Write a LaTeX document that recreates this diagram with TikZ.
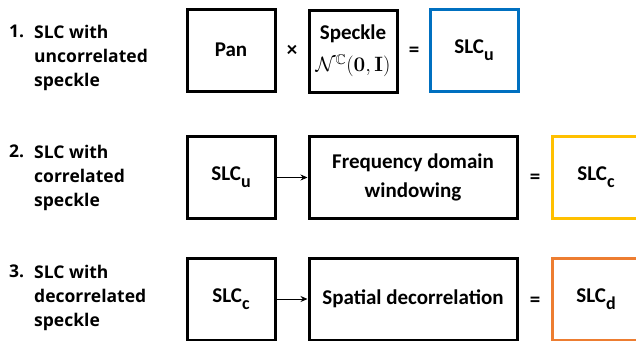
\documentclass[tikz,border=0pt]{standalone}
\usepackage{amsmath,amssymb}
\usepackage[no-math]{fontspec}
\setmainfont{Carlito}
\newfontfamily\labelfont{Open Sans}
\usetikzlibrary{arrows.meta}
\definecolor{boxblue}{HTML}{0070C0}
\definecolor{boxyellow}{HTML}{FFC000}
\definecolor{boxorange}{HTML}{ED7D31}
\newcommand{\slcsub}[1]{SLC\raisebox{-0.32em}{\fontsize{18}{18}\selectfont #1}}
\tikzset{
  blk/.style={draw, line width=3pt, minimum width=88pt, minimum height=82pt, inner sep=0pt,
    font=\fontsize{21}{25}\selectfont\bfseries, align=center},
  wideblk/.style={blk, minimum width=208pt},
  rowlabel/.style={anchor=north west, font=\labelfont\fontsize{17.5}{24}\selectfont\bfseries, align=left, inner sep=0pt},
  num/.style={anchor=north west, font=\labelfont\fontsize{17.5}{24}\selectfont\bfseries, inner sep=0pt},
  op/.style={font=\fontsize{21}{25}\selectfont\bfseries},
  conn/.style={line width=0.8pt, -{Stealth[length=7pt,width=6pt]}}
}
\begin{document}
\begin{tikzpicture}[x=1pt,y=-1pt]
\useasboundingbox (0,0) rectangle (636,340);
\clip (0,0) rectangle (636,340);
% Row 1
\node[num] (n1) at (9,25) {1.};
\node[rowlabel] (l1) at (34,25) {SLC with\\uncorrelated\\speckle};
\node[blk] (pan) at (231,50) {Pan};
\node[op] (times) at (292,51) {×};
\node[blk] (speck) at (353,51) {Speckle\\[7pt]{\mdseries\fontsize{20}{24}\selectfont$\mathcal{N}^{\mathbb{C}}(\mathbf{0},\mathbf{I})$}};
\node[op] (eq1) at (414,52) {=};
\node[blk, draw=boxblue] (slcu) at (474,50) {\slcsub{u}};
% Row 2
\node[num] (n2) at (9,145) {2.};
\node[rowlabel] (l2) at (34,145) {SLC with\\correlated\\speckle};
\node[blk] (slcu2) at (231,177.5) {\slcsub{u}};
\node[wideblk] (freq) at (413,177.5) {Frequency domain\\[4pt]windowing};
\node[op] (eq2) at (535,179) {=};
\node[blk, draw=boxyellow] (slcc) at (596,177.5) {\slcsub{c}};
\draw[conn] (slcu2) -- (freq);
% Row 3
\node[num] (n3) at (9,265) {3.};
\node[rowlabel] (l3) at (34,265) {SLC with\\decorrelated\\speckle};
\node[blk] (slcc2) at (231,299) {\slcsub{c}};
\node[wideblk] (spat) at (413,299) {Spatial decorrelation};
\node[op] (eq3) at (535,302) {=};
\node[blk, draw=boxorange] (slcd) at (596,299) {\slcsub{d}};
\draw[conn] (slcc2) -- (spat);
\end{tikzpicture}
\end{document}
